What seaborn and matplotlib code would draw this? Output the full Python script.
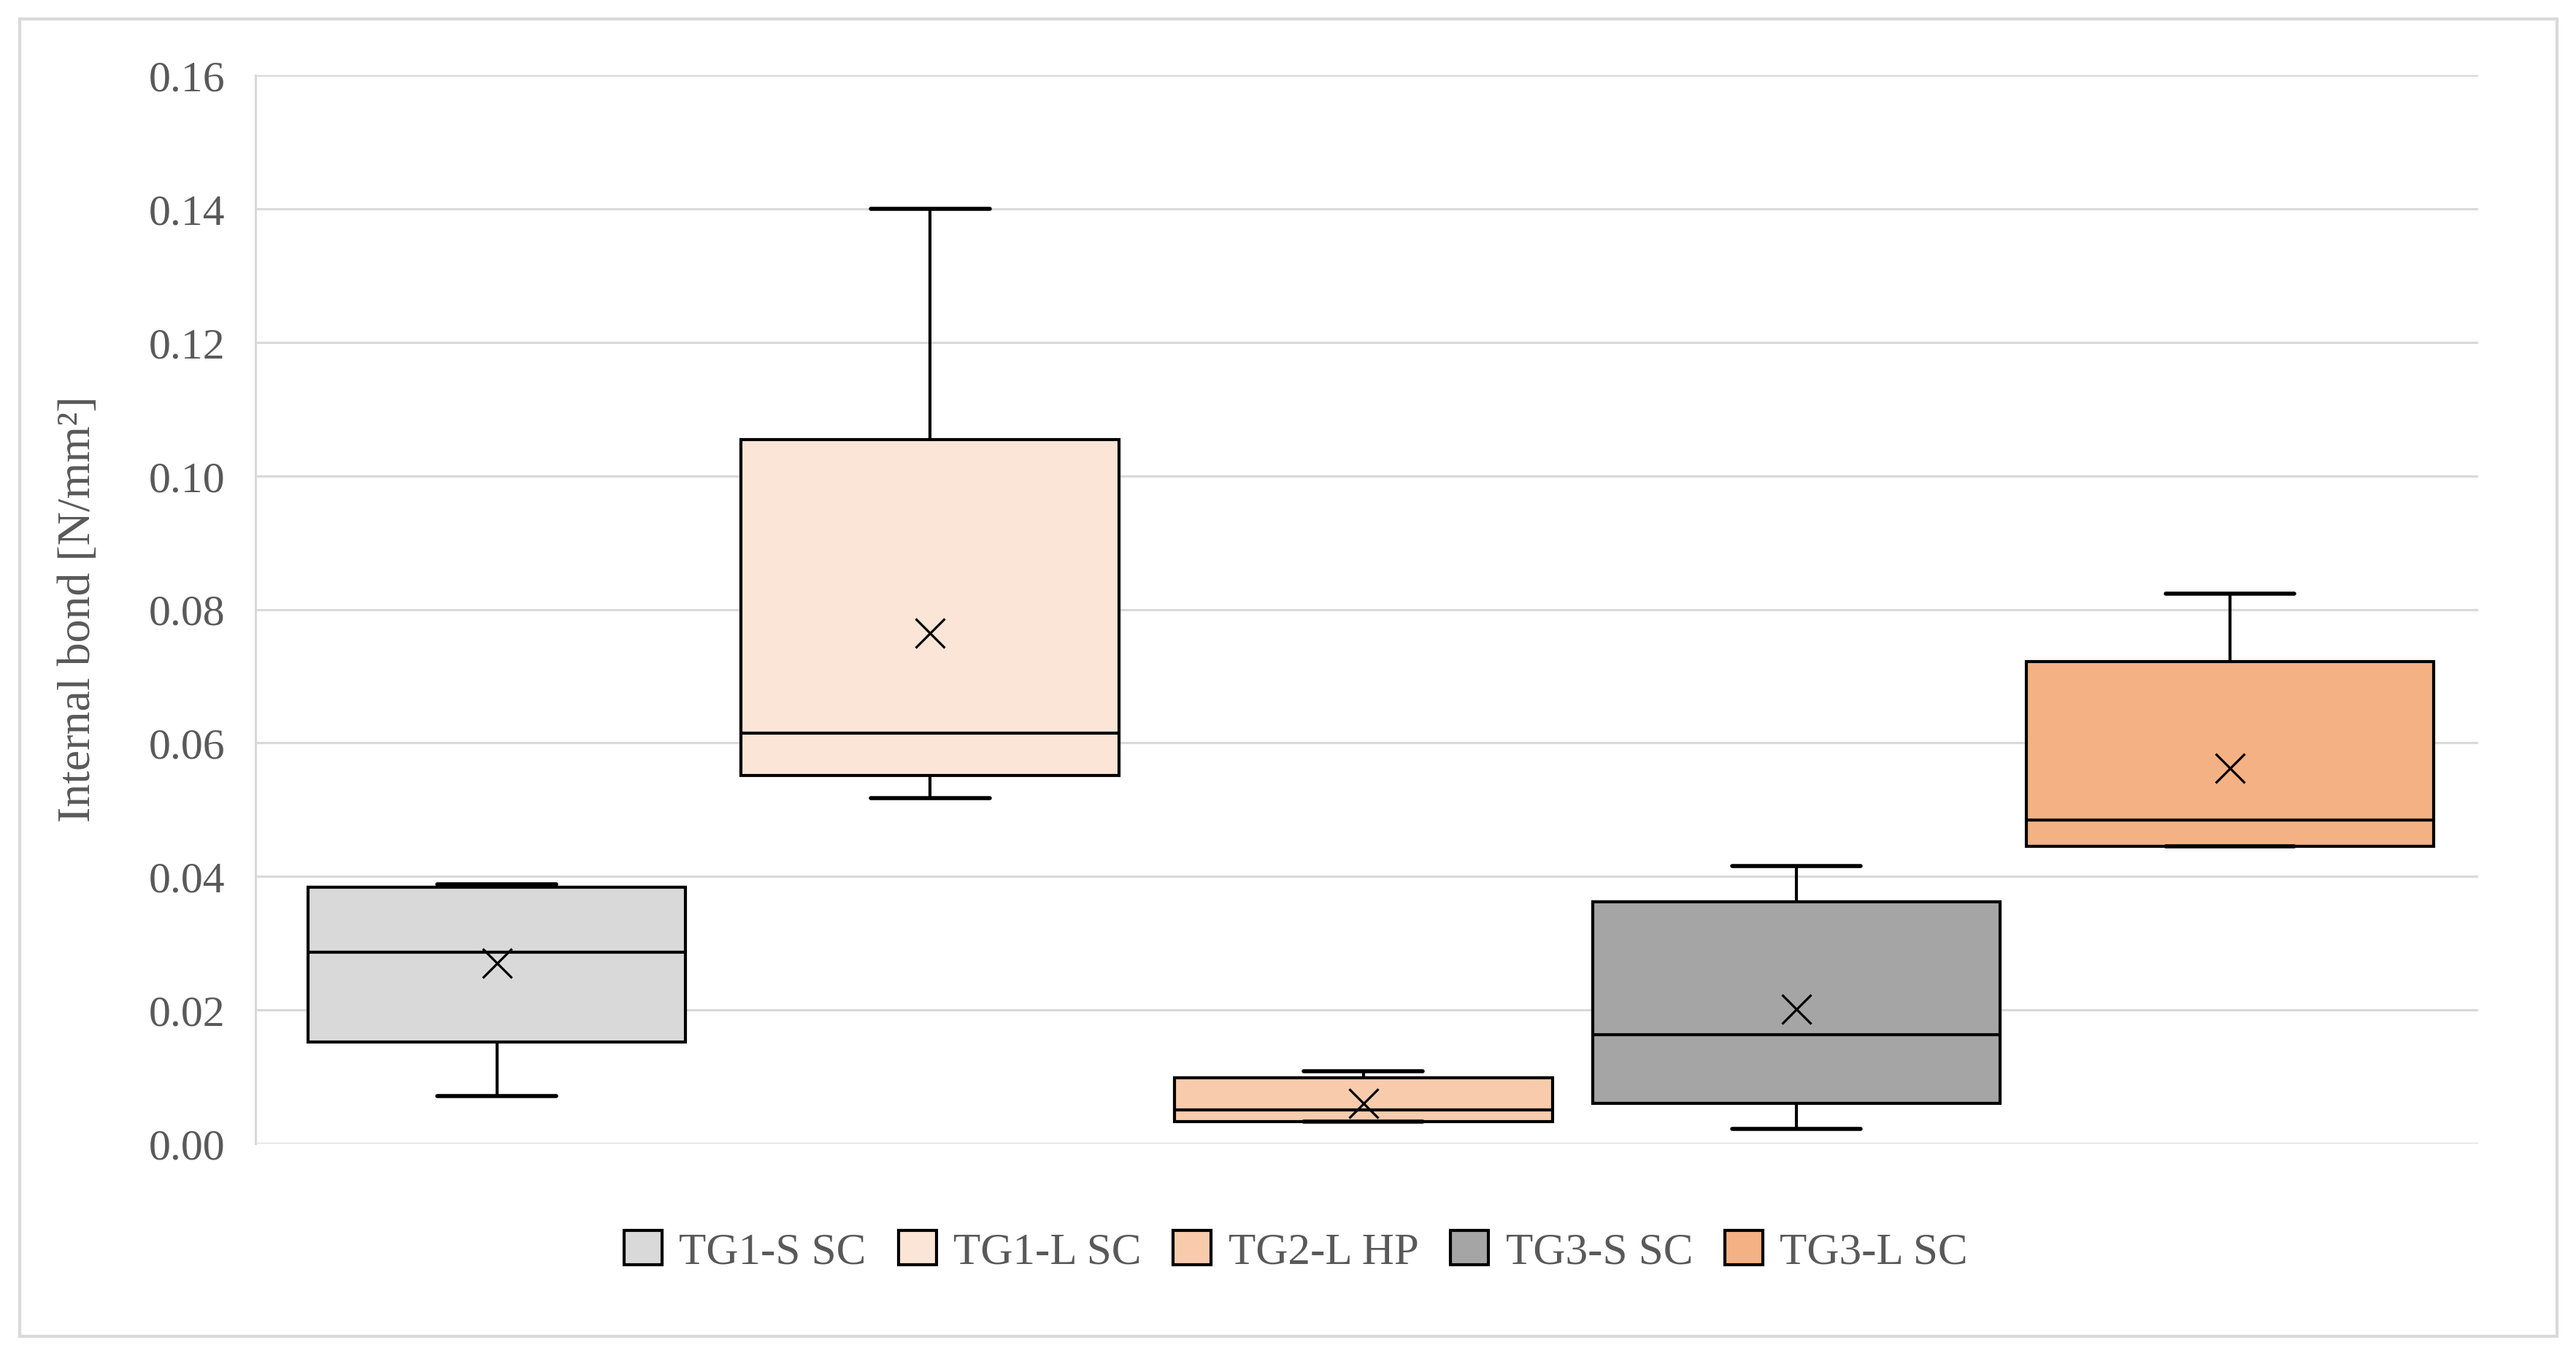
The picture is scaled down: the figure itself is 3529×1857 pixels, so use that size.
import numpy as np
import pandas as pd
import matplotlib
matplotlib.use("Agg")
import matplotlib.pyplot as plt
import seaborn as sns
from matplotlib.patches import Patch, Rectangle

# ---- data ----
groups = ["TG1-S SC", "TG1-L SC", "TG2-L HP", "TG3-S SC", "TG3-L SC"]
minimum = [0.0071, 0.0517, 0.0033, 0.0022, 0.0445]
q1 = [0.0152, 0.0551, 0.0033, 0.0060, 0.0445]
median = [0.0287, 0.0615, 0.0050, 0.0163, 0.0484]
q3 = [0.0384, 0.1054, 0.0098, 0.0362, 0.0722]
maximum = [0.0388, 0.1400, 0.0108, 0.0416, 0.0823]
means = [0.0270, 0.0764, 0.0060, 0.0201, 0.0562]
colors = ["#D9D9D9", "#FBE5D6", "#F8CBAD", "#A5A5A5", "#F4B183"]
yticks = [0.00, 0.02, 0.04, 0.06, 0.08, 0.10, 0.12, 0.14, 0.16]
ylabel = "Internal bond [N/mm²]"

rows = []
for g, a, b, c, d, e in zip(groups, minimum, q1, median, q3, maximum):
    for v in (a, b, c, d, e):
        rows.append({"group": g, "value": v})
df = pd.DataFrame(rows)
mean_df = pd.DataFrame({"group": groups, "mean": means})
palette = dict(zip(groups, colors))

sns.set_theme(style="white")
plt.rcParams["font.family"] = ["Liberation Serif", "DejaVu Serif"]
TXT = "#595959"
GRID = "#D9D9D9"

fig = plt.figure(figsize=(35.3, 18.58), dpi=100)
ax = fig.add_axes([350 / 3530, 1 - 1567 / 1858, (3395 - 350) / 3530, (1567 - 104) / 1858])

common = dict(x="group", y="value", hue="group", order=groups, hue_order=groups,
              palette=palette, saturation=1, whis=(0, 100), linewidth=3,
              linecolor="black", showfliers=False, legend=False, dodge=False, ax=ax)
sns.boxplot(data=df[df["group"].isin(groups[:3])], width=0.872, **common)
sns.boxplot(data=df[df["group"].isin(groups[3:])], width=0.94, **common)

# shorten whisker caps to Excel-like proportion
for ln in ax.lines:
    xd, yd = np.asarray(ln.get_xdata(), float), np.asarray(ln.get_ydata(), float)
    if len(xd) == 2 and yd[0] == yd[1]:
        span = xd[1] - xd[0]
        if 0 < abs(span) < 0.6:
            cx = xd.mean()
            ln.set_xdata([cx - span * 0.315, cx + span * 0.315])
            ln.set_linewidth(4)

sns.pointplot(data=mean_df, x="group", y="mean", order=groups, linestyle="none",
              marker="x", color="black", markersize=29, markeredgewidth=2.3,
              errorbar=None, ax=ax, zorder=6)

ax.set_xlim(-0.557, 4.573)
ax.set_ylim(0, 0.16)
ax.set_yticks(yticks)
ax.set_yticklabels([f"{t:.2f}" for t in yticks], color=TXT, fontsize=43)
ax.set_xticks([])
ax.set_xlabel("")
ax.set_ylabel("")
ax.tick_params(axis="y", length=0, pad=30)
ax.yaxis.grid(True, color=GRID, linewidth=2.2)
ax.set_axisbelow(True)
for s in ["top", "right", "bottom"]:
    ax.spines[s].set_visible(False)
ax.spines["left"].set_color(GRID)
ax.spines["left"].set_linewidth(2.2)

fig.text(108 / 3530, 1 - 834 / 1858, ylabel, rotation=90, ha="center", va="center",
         color=TXT, fontsize=46)

handles = [Patch(facecolor=c, edgecolor="black", linewidth=3, label=g)
           for g, c in zip(groups, colors)]
fig.legend(handles=handles, loc="center", bbox_to_anchor=(0.503, 1 - 1715 / 1858),
           ncol=5, frameon=False, fontsize=44, labelcolor=TXT, handlelength=0.85,
           handleheight=0.8, handletextpad=0.38, columnspacing=0.72)

fig.patches.append(Rectangle((27 / 3530, 27 / 1858), (3503 - 27) / 3530, (1831 - 27) / 1858,
                             transform=fig.transFigure, fill=False, edgecolor=GRID, lw=3))

fig.savefig("out.png", dpi=100)
